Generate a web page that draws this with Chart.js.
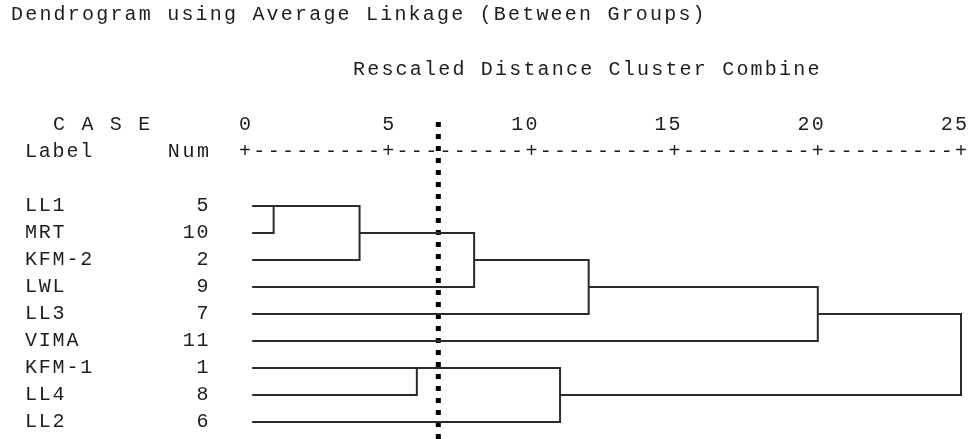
<!DOCTYPE html>
<html>
<head>
<meta charset="utf-8">
<script src="https://cdn.jsdelivr.net/npm/chart.js@4/dist/chart.umd.min.js"></script>
<style>
  html, body { margin: 0; padding: 0; background: #fff; }
</style>
</head>
<body>
<canvas id="dendro" width="972" height="439"></canvas>
<script>
const caseLabels = ['LL1', 'MRT', 'KFM-2', 'LWL', 'LL3', 'VIMA', 'KFM-1', 'LL4', 'LL2']
const caseNums = [5, 10, 2, 9, 7, 11, 1, 8, 6]

// agglomeration schedule: ids 0-8 are the cases (rows), stage i builds cluster 9 + i
const mergeFirst = [0, 9, 6, 10, 11, 12, 14, 15]
const mergeSecond = [1, 2, 7, 3, 8, 4, 5, 13]
const mergeDistance = [1, 4, 6, 8, 11, 12, 20, 25]

const tickValues = [0, 5, 10, 15, 20, 25]
const leafStart = 0.25
const cutDistance = 6.75

const titleText = 'Dendrogram using Average Linkage (Between Groups)'
const subtitleText = 'Rescaled Distance Cluster Combine'

const lineColor = '#2b2b2b'
const textColor = '#1e1e1e'
const pitch = 14.2

// each merge is drawn as one bracket: child A -> merge distance -> child B
const nodeRow = caseLabels.map((_, i) => i)
const nodeX = caseLabels.map(() => leafStart)

const linkSets = mergeDistance.map((d, i) => {
  const a = mergeFirst[i]
  const b = mergeSecond[i]
  const ra = nodeRow[a]
  const rb = nodeRow[b]
  const points = [
    { x: nodeX[a], y: ra },
    { x: d, y: ra },
    { x: d, y: rb },
    { x: nodeX[b], y: rb }
  ]
  nodeRow.push(Math.floor((ra + rb) / 2))
  nodeX.push(d)
  return {
    data: points,
    showLine: true,
    borderColor: lineColor,
    borderWidth: 2,
    borderJoinStyle: 'miter',
    pointRadius: 0,
    tension: 0,
    clip: false
  }
})

const cutSet = {
  data: [{ x: cutDistance, y: -3.11 }, { x: cutDistance, y: 8.7 }],
  showLine: true,
  borderColor: '#000',
  borderWidth: 5,
  borderDash: [5, 7],
  borderCapStyle: 'butt',
  pointRadius: 0,
  clip: false
}

const drawMono = (ctx, str, firstCenter, y, step) => {
  for (let i = 0; i < str.length; i++) {
    ctx.fillText(str[i], firstCenter + i * step, y)
  }
}

const spssText = {
  id: 'spssText',
  afterDraw(chart) {
    const { ctx } = chart
    const x = chart.scales.x
    const y = chart.scales.y
    ctx.save()
    ctx.fillStyle = textColor
    ctx.font = '20px "Liberation Mono", monospace'
    ctx.textAlign = 'center'
    ctx.textBaseline = 'middle'

    drawMono(ctx, titleText, 17, y.getPixelForValue(-7.07), pitch)
    drawMono(ctx, subtitleText, 359, y.getPixelForValue(-5.04), pitch)

    const caseRow = y.getPixelForValue(-3)
    const axisRow = y.getPixelForValue(-2)
    drawMono(ctx, 'C A S E', 59, caseRow, pitch)
    drawMono(ctx, 'Label', 31, axisRow, 13.8)
    drawMono(ctx, 'Num', 203 - 2 * 14.6, axisRow, 14.6)

    tickValues.forEach(v => {
      const s = String(v)
      drawMono(ctx, s, x.getPixelForValue(v) - (s.length - 1) * pitch, caseRow, pitch)
    })

    for (let v = 0; v <= 25; v += 0.5) {
      ctx.fillText(v % 5 === 0 ? '+' : '-', x.getPixelForValue(v), axisRow)
    }

    caseLabels.forEach((label, i) => {
      const py = y.getPixelForValue(i)
      drawMono(ctx, label, 31, py, 13.8)
      const n = String(caseNums[i])
      drawMono(ctx, n, 202.5 - (n.length - 1) * 13.8, py, 13.8)
    })
    ctx.restore()
  }
}

new Chart(document.getElementById('dendro'), {
  type: 'scatter',
  data: { datasets: [...linkSets, cutSet] },
  options: {
    responsive: false,
    animation: false,
    events: [],
    layout: { padding: { left: 245, right: 11, top: 0, bottom: 0 } },
    scales: {
      x: { type: 'linear', min: 0, max: 25, display: false },
      y: { type: 'linear', min: -7.63, max: 8.63, reverse: true, display: false }
    },
    plugins: {
      legend: { display: false },
      tooltip: { enabled: false }
    }
  },
  plugins: [spssText]
})
</script>
</body>
</html>
